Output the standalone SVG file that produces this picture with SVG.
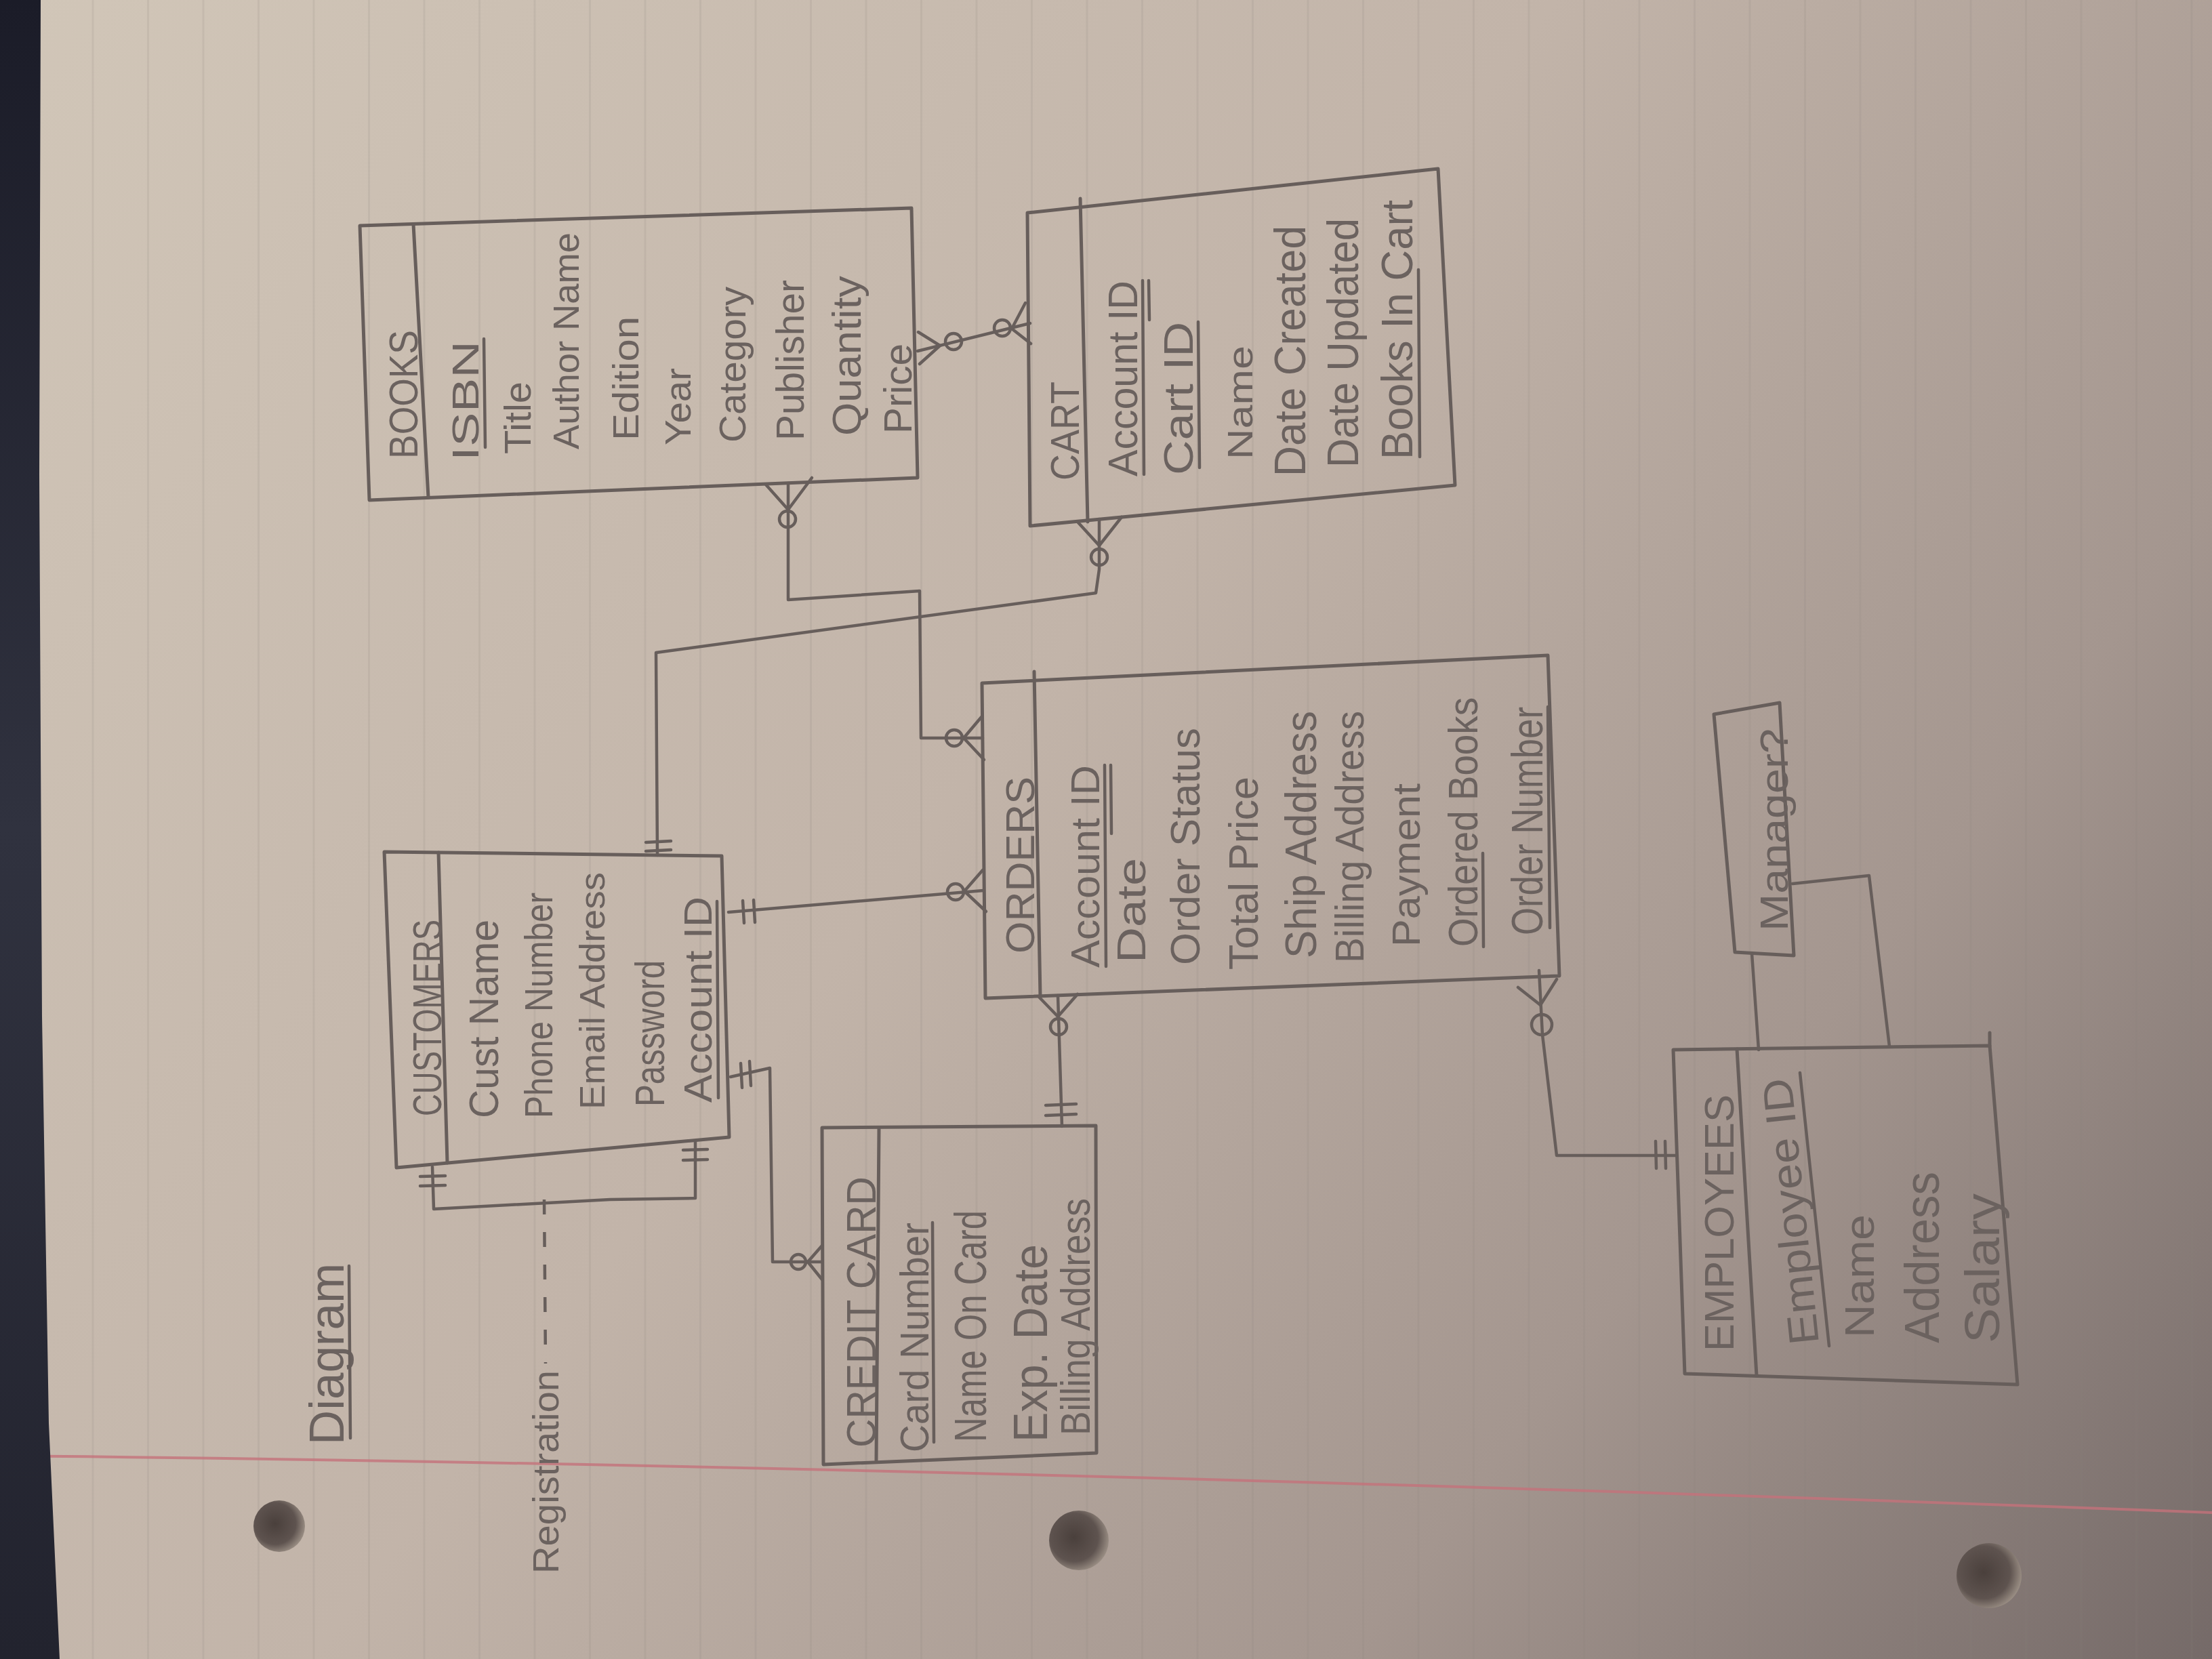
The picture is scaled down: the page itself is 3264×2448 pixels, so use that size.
<svg xmlns="http://www.w3.org/2000/svg" width="3264" height="2448" viewBox="0 0 3264 2448">
<defs>
  <linearGradient id="paper" x1="0" y1="0" x2="3264" y2="2448" gradientUnits="userSpaceOnUse">
    <stop offset="0" stop-color="#d1c6b8"/>
    <stop offset="0.45" stop-color="#c2b4a9"/>
    <stop offset="0.75" stop-color="#a4968f"/>
    <stop offset="1" stop-color="#756a68"/>
  </linearGradient>
  <linearGradient id="edge" x1="0" y1="0" x2="0" y2="2448" gradientUnits="userSpaceOnUse">
    <stop offset="0" stop-color="#1b1c28"/>
    <stop offset="0.5" stop-color="#30323f"/>
    <stop offset="1" stop-color="#22232e"/>
  </linearGradient>
  <radialGradient id="hole" cx="0.42" cy="0.45" r="0.62">
    <stop offset="0" stop-color="#4a403c"/>
    <stop offset="0.65" stop-color="#5e534f"/>
    <stop offset="1" stop-color="#a3978c"/>
  </radialGradient>
  <pattern id="ruled" x="54" y="0" width="81.5" height="2448" patternUnits="userSpaceOnUse">
    <rect x="0" y="0" width="3" height="2448" fill="#8a7e78" fill-opacity="0.14"/>
  </pattern>
  <style>
    .box{fill:none;stroke:#675e5b;stroke-width:5;stroke-linejoin:round;stroke-linecap:round}
    .cn{fill:none;stroke:#675e5b;stroke-width:4.5;stroke-linejoin:round;stroke-linecap:round}
    .dash{fill:none;stroke:#675e5b;stroke-width:4.5;stroke-dasharray:22 26}
    .t{font-family:"Liberation Sans","DejaVu Sans",sans-serif;fill:#6b625f}
  </style>
</defs>

<!-- notebook page -->
<rect x="0" y="0" width="3264" height="2448" fill="url(#paper)"/>
<rect x="0" y="0" width="3264" height="2448" fill="url(#ruled)"/>
<path d="M0,2148 Q1400,2162 3264,2232" fill="none" stroke="#c4727a" stroke-width="4" stroke-opacity="0.8"/>
<polygon points="0,0 60,0 58,700 62,1500 72,2100 88,2448 0,2448" fill="url(#edge)"/>
<circle cx="412" cy="2252" r="38" fill="url(#hole)"/>
<circle cx="1592" cy="2273" r="44" fill="url(#hole)"/>
<circle cx="2935" cy="2325" r="48" fill="url(#hole)"/>

<!-- title -->
<g id="title">
  <text class="t" font-size="72" textLength="268" lengthAdjust="spacingAndGlyphs" transform="translate(507 2132) rotate(-90)">Diagram</text>
  <line class="cn" x1="515" y1="1868" x2="517" y2="2122"/>
</g>

<!-- BOOKS -->
<g id="books">
  <polygon class="box" points="531,333 1345,307 1354,705 545,738"/>
  <line class="box" x1="610" y1="331" x2="632" y2="734"/>
  <text class="t" font-size="60" textLength="190" lengthAdjust="spacingAndGlyphs" transform="translate(616 677) rotate(-90)">BOOKS</text>
  <text class="t" font-size="56" textLength="177" lengthAdjust="spacingAndGlyphs" transform="translate(706 680) rotate(-90)">ISBN</text>
  <line class="cn" x1="714" y1="500" x2="716" y2="660"/>
  <text class="t" font-size="56" textLength="107" lengthAdjust="spacingAndGlyphs" transform="translate(783 670) rotate(-90)">Title</text>
  <text class="t" font-size="54" textLength="320" lengthAdjust="spacingAndGlyphs" transform="translate(854 663) rotate(-90)">Author Name</text>
  <text class="t" font-size="54" textLength="183" lengthAdjust="spacingAndGlyphs" transform="translate(942 650) rotate(-90)">Edition</text>
  <text class="t" font-size="54" textLength="114" lengthAdjust="spacingAndGlyphs" transform="translate(1019 657) rotate(-90)">Year</text>
  <text class="t" font-size="56" textLength="230" lengthAdjust="spacingAndGlyphs" transform="translate(1100 653) rotate(-90)">Category</text>
  <text class="t" font-size="58" textLength="237" lengthAdjust="spacingAndGlyphs" transform="translate(1186 650) rotate(-90)">Publisher</text>
  <text class="t" font-size="60" textLength="236" lengthAdjust="spacingAndGlyphs" transform="translate(1270 643) rotate(-90)">Quantity</text>
  <text class="t" font-size="58" textLength="133" lengthAdjust="spacingAndGlyphs" transform="translate(1345 640) rotate(-90)">Price</text>
</g>

<!-- CART -->
<g id="cart">
  <polygon class="box" points="1516,314 2122,249 2147,716 1520,776"/>
  <line class="box" x1="1594" y1="293" x2="1605" y2="770"/>
  <text class="t" font-size="60" textLength="146" lengthAdjust="spacingAndGlyphs" transform="translate(1592 709) rotate(-90)">CART</text>
  <text class="t" font-size="62" textLength="289" lengthAdjust="spacingAndGlyphs" transform="translate(1678 703) rotate(-90)">Account ID</text>
  <line class="cn" x1="1686" y1="414" x2="1688" y2="700"/>
  <line class="cn" x1="1695" y1="414" x2="1696" y2="472"/>
  <text class="t" font-size="62" textLength="226" lengthAdjust="spacingAndGlyphs" transform="translate(1760 701) rotate(-90)">Cart ID</text>
  <line class="cn" x1="1768" y1="475" x2="1770" y2="690"/>
  <text class="t" font-size="52" textLength="168" lengthAdjust="spacingAndGlyphs" transform="translate(1848 678) rotate(-90)">Name</text>
  <text class="t" font-size="64" textLength="370" lengthAdjust="spacingAndGlyphs" transform="translate(1926 703) rotate(-90)">Date Created</text>
  <text class="t" font-size="64" textLength="368" lengthAdjust="spacingAndGlyphs" transform="translate(2004 690) rotate(-90)">Date Updated</text>
  <text class="t" font-size="64" textLength="383" lengthAdjust="spacingAndGlyphs" transform="translate(2084 678) rotate(-90)">Books In Cart</text>
  <line class="cn" x1="2093" y1="398" x2="2095" y2="674"/>
</g>

<!-- CUSTOMERS -->
<g id="customers">
  <polygon class="box" points="567,1257 1065,1263 1076,1678 585,1723"/>
  <line class="box" x1="647" y1="1258" x2="660" y2="1716"/>
  <text class="t" font-size="60" textLength="290" lengthAdjust="spacingAndGlyphs" transform="translate(651 1647) rotate(-90)">CUSTOMERS</text>
  <text class="t" font-size="62" textLength="293" lengthAdjust="spacingAndGlyphs" transform="translate(735 1650) rotate(-90)">Cust Name</text>
  <text class="t" font-size="58" textLength="333" lengthAdjust="spacingAndGlyphs" transform="translate(815 1650) rotate(-90)">Phone Number</text>
  <text class="t" font-size="52" textLength="350" lengthAdjust="spacingAndGlyphs" transform="translate(892 1637) rotate(-90)">Email Address</text>
  <text class="t" font-size="62" textLength="216" lengthAdjust="spacingAndGlyphs" transform="translate(980 1633) rotate(-90)">Password</text>
  <text class="t" font-size="58" textLength="304" lengthAdjust="spacingAndGlyphs" transform="translate(1050 1627) rotate(-90)">Account ID</text>
  <line class="cn" x1="1058" y1="1330" x2="1060" y2="1620"/>
</g>

<!-- ORDERS -->
<g id="orders">
  <polygon class="box" points="1449,1008 2284,967 2301,1440 1454,1473"/>
  <line class="box" x1="1526" y1="991" x2="1535" y2="1470"/>
  <text class="t" font-size="60" textLength="261" lengthAdjust="spacingAndGlyphs" transform="translate(1526 1407) rotate(-90)">ORDERS</text>
  <text class="t" font-size="60" textLength="299" lengthAdjust="spacingAndGlyphs" transform="translate(1622 1428) rotate(-90)">Account ID</text>
  <line class="cn" x1="1630" y1="1129" x2="1632" y2="1426"/>
  <line class="cn" x1="1639" y1="1129" x2="1640" y2="1230"/>
  <text class="t" font-size="60" textLength="155" lengthAdjust="spacingAndGlyphs" transform="translate(1690 1421) rotate(-90)">Date</text>
  <text class="t" font-size="62" textLength="350" lengthAdjust="spacingAndGlyphs" transform="translate(1770 1424) rotate(-90)">Order Status</text>
  <text class="t" font-size="62" textLength="285" lengthAdjust="spacingAndGlyphs" transform="translate(1856 1431) rotate(-90)">Total Price</text>
  <text class="t" font-size="64" textLength="365" lengthAdjust="spacingAndGlyphs" transform="translate(1942 1414) rotate(-90)">Ship Address</text>
  <text class="t" font-size="60" textLength="372" lengthAdjust="spacingAndGlyphs" transform="translate(2012 1421) rotate(-90)">Billing Address</text>
  <text class="t" font-size="58" textLength="241" lengthAdjust="spacingAndGlyphs" transform="translate(2095 1397) rotate(-90)">Payment</text>
  <text class="t" font-size="62" textLength="368" lengthAdjust="spacingAndGlyphs" transform="translate(2180 1397) rotate(-90)">Ordered Books</text>
  <line class="cn" x1="2188" y1="1259" x2="2189" y2="1397"/>
  <text class="t" font-size="64" textLength="337" lengthAdjust="spacingAndGlyphs" transform="translate(2276 1380) rotate(-90)">Order Number</text>
  <line class="cn" x1="2284" y1="1043" x2="2287" y2="1369"/>
</g>

<!-- CREDIT CARD -->
<g id="credit-card">
  <polygon class="box" points="1213,1664 1617,1661 1618,2144 1215,2161"/>
  <line class="box" x1="1297" y1="1666" x2="1293" y2="2155"/>
  <text class="t" font-size="62" textLength="400" lengthAdjust="spacingAndGlyphs" transform="translate(1292 2136) rotate(-90)">CREDIT CARD</text>
  <text class="t" font-size="60" textLength="339" lengthAdjust="spacingAndGlyphs" transform="translate(1370 2143) rotate(-90)">Card Number</text>
  <line class="cn" x1="1376" y1="1804" x2="1378" y2="2128"/>
  <text class="t" font-size="66" textLength="342" lengthAdjust="spacingAndGlyphs" transform="translate(1455 2128) rotate(-90)">Name On Card</text>
  <text class="t" font-size="70" textLength="292" lengthAdjust="spacingAndGlyphs" transform="translate(1545 2128) rotate(-90)">Exp. Date</text>
  <text class="t" font-size="62" textLength="350" lengthAdjust="spacingAndGlyphs" transform="translate(1608 2118) rotate(-90)">Billing Address</text>
</g>

<!-- EMPLOYEES -->
<g id="employees">
  <polygon class="box" points="2469,1549 2936,1543 2977,2043 2486,2027"/>
  <line class="box" x1="2936" y1="1524" x2="2936" y2="1543"/>
  <line class="box" x1="2563" y1="1548" x2="2592" y2="2030"/>
  <text class="t" font-size="62" textLength="379" lengthAdjust="spacingAndGlyphs" transform="translate(2558 1994) rotate(-90)">EMPLOYEES</text>
  <text class="t" font-size="62" textLength="395" lengthAdjust="spacingAndGlyphs" transform="translate(2684 1982) rotate(-96)">Employee ID</text>
  <line class="cn" x1="2656" y1="1583" x2="2699" y2="1986"/>
  <text class="t" font-size="62" textLength="182" lengthAdjust="spacingAndGlyphs" transform="translate(2765 1974) rotate(-90)">Name</text>
  <text class="t" font-size="72" textLength="253" lengthAdjust="spacingAndGlyphs" transform="translate(2861 1982) rotate(-90)">Address</text>
  <text class="t" font-size="72" textLength="221" lengthAdjust="spacingAndGlyphs" transform="translate(2950 1982) rotate(-90)">Salary</text>
</g>

<!-- Manager? -->
<g id="manager">
  <polygon class="box" points="2529,1054 2626,1037 2647,1410 2560,1405"/>
  <text class="t" font-size="58" textLength="299" lengthAdjust="spacingAndGlyphs" transform="translate(2638 1374) rotate(-90)">Manager?</text>
</g>

<!-- Registration label -->
<g id="registration">
  <text class="t" font-size="54" textLength="300" lengthAdjust="spacingAndGlyphs" transform="translate(824 2322) rotate(-90)">Registration</text>
</g>

<!-- relationships -->
<g id="connectors">
  <!-- BOOKS to CART -->
  <line class="cn" x1="1354" y1="518" x2="1520" y2="477"/>
  <polyline class="cn" points="1355,490 1387,510 1357,537"/>
  <circle class="cn" cx="1407" cy="504" r="12"/>
  <polyline class="cn" points="1513,447 1493,485 1521,507"/>
  <circle class="cn" cx="1479" cy="484" r="12"/>

  <!-- BOOKS to ORDERS -->
  <polyline class="cn" points="1163,713 1163,885 1357,872 1359,1089 1450,1089"/>
  <polyline class="cn" points="1130,715 1163,752 1198,705"/>
  <circle class="cn" cx="1162" cy="766" r="12"/>
  <polyline class="cn" points="1449,1057 1422,1089 1452,1121"/>
  <circle class="cn" cx="1408" cy="1089" r="12"/>

  <!-- CUSTOMERS to CART -->
  <polyline class="cn" points="970,1262 968,963 1617,875 1622,840 1622,766"/>
  <polyline class="cn" points="1590,770 1622,805 1655,763"/>
  <circle class="cn" cx="1622" cy="822" r="12"/>
  <line class="cn" x1="953" y1="1243" x2="990" y2="1241"/>
  <line class="cn" x1="953" y1="1256" x2="990" y2="1254"/>

  <!-- CUSTOMERS to ORDERS -->
  <line class="cn" x1="1075" y1="1346" x2="1451" y2="1314"/>
  <line class="cn" x1="1096" y1="1329" x2="1098" y2="1362"/>
  <line class="cn" x1="1112" y1="1328" x2="1114" y2="1361"/>
  <circle class="cn" cx="1410" cy="1316" r="12"/>
  <polyline class="cn" points="1450,1284 1423,1315 1455,1345"/>

  <!-- CUSTOMERS to CREDIT CARD -->
  <polyline class="cn" points="1078,1589 1136,1576 1140,1862 1213,1862"/>
  <line class="cn" x1="1093" y1="1569" x2="1095" y2="1605"/>
  <line class="cn" x1="1106" y1="1566" x2="1108" y2="1602"/>
  <circle class="cn" cx="1178" cy="1862" r="11"/>
  <polyline class="cn" points="1213,1838 1192,1862 1213,1888"/>

  <!-- ORDERS to CREDIT CARD -->
  <line class="cn" x1="1561" y1="1469" x2="1567" y2="1662"/>
  <polyline class="cn" points="1533,1471 1561,1500 1590,1467"/>
  <circle class="cn" cx="1562" cy="1515" r="12"/>
  <line class="cn" x1="1543" y1="1631" x2="1588" y2="1629"/>
  <line class="cn" x1="1543" y1="1646" x2="1588" y2="1644"/>

  <!-- ORDERS to EMPLOYEES -->
  <polyline class="cn" points="2271,1432 2276,1527 2297,1705 2474,1705"/>
  <polyline class="cn" points="2240,1457 2273,1483 2297,1445"/>
  <circle class="cn" cx="2275" cy="1512" r="15"/>
  <line class="cn" x1="2443" y1="1684" x2="2444" y2="1724"/>
  <line class="cn" x1="2457" y1="1684" x2="2458" y2="1724"/>

  <!-- Manager? to EMPLOYEES -->
  <line class="cn" x1="2585" y1="1407" x2="2595" y2="1549"/>
  <polyline class="cn" points="2645,1304 2758,1292 2788,1544"/>

  <!-- CUSTOMERS to CUSTOMERS (Registration) -->
  <polyline class="cn" points="638,1722 640,1784 900,1770 1026,1768 1026,1684"/>
  <line class="cn" x1="620" y1="1736" x2="657" y2="1735"/>
  <line class="cn" x1="620" y1="1750" x2="657" y2="1749"/>
  <line class="cn" x1="1008" y1="1697" x2="1044" y2="1696"/>
  <line class="cn" x1="1008" y1="1712" x2="1044" y2="1711"/>
  <line class="dash" x1="803" y1="1770" x2="805" y2="2012"/>
</g>
</svg>
